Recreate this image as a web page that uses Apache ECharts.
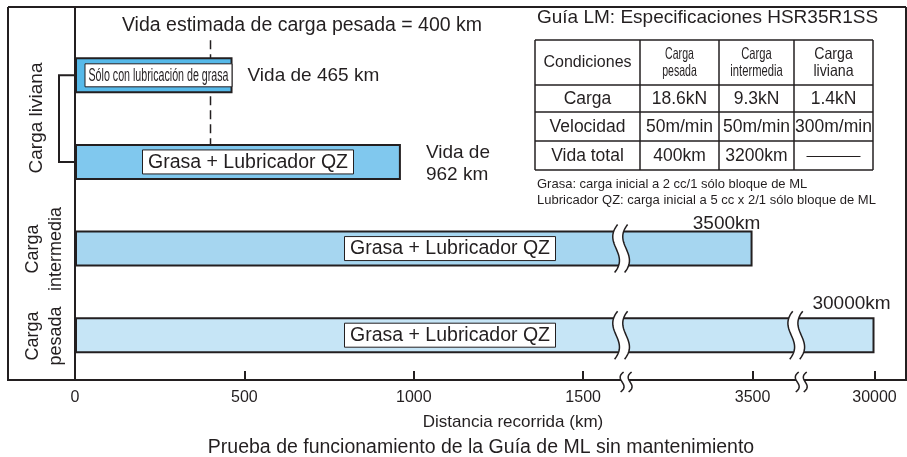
<!DOCTYPE html>
<html><head><meta charset="utf-8">
<script src="https://cdn.jsdelivr.net/npm/echarts@6/dist/echarts.min.js"></script>
<style>html,body{margin:0;padding:0;background:#fff}#c{width:907px;height:457px}</style>
</head><body><div id="c"></div>
<script>
// ---------- data ----------
const rows = ['Carga liviana (grasa)', 'Carga liviana (QZ)', 'Carga intermedia', 'Carga pesada'];
const distancesKm = [465, 962, 3500, 30000];
const barLabels = ['Sólo con lubricación de grasa', 'Grasa + Lubricador QZ', 'Grasa + Lubricador QZ', 'Grasa + Lubricador QZ'];
const endLabels = ['Vida de 465 km', 'Vida de\n962 km', '3500km', '30000km'];
const ratedLifeKm = 400;
const ratedLifeLabel = 'Vida estimada de carga pesada = 400 km';
const tickKm = [0, 500, 1000, 1500, 3500, 30000];
const tickLabels = ['0', '500', '1000', '1500', '3500', '30000'];
const groupLabels = ['Carga liviana', 'Carga\nintermedia', 'Carga\npesada'];
const tableTitle = 'Guía LM: Especificaciones HSR35R1SS';
const tableHeader = ['Condiciones', 'Carga\npesada', 'Carga\nintermedia', 'Carga\nliviana'];
const tableRows = [
  ['Carga', '18.6kN', '9.3kN', '1.4kN'],
  ['Velocidad', '50m/min', '50m/min', '300m/min'],
  ['Vida total', '400km', '3200km', null]
];
const notes = ['Grasa: carga inicial a 2 cc/1 sólo bloque de ML', 'Lubricador QZ: carga inicial a 5 cc x 2/1 sólo bloque de ML'];
const xAxisName = 'Distancia recorrida (km)';
const caption = 'Prueba de funcionamiento de la Guía de ML sin mantenimiento';

// ---------- broken-axis scale (km -> axis position) ----------
const scaleKm = [0, 1500, 3500, 30000];
const scalePos = [0, 1500, 2000, 2360];
function toPos(km) {
  for (let i = 1; i < scaleKm.length; i++) {
    if (km <= scaleKm[i]) {
      const t = (km - scaleKm[i - 1]) / (scaleKm[i] - scaleKm[i - 1]);
      return scalePos[i - 1] + t * (scalePos[i] - scalePos[i - 1]);
    }
  }
  return scalePos[scalePos.length - 1];
}
const breakPos = [1612, 2129];

// ---------- styles ----------
const FONT = '"Liberation Sans", Arial, Helvetica, sans-serif';
const INK = '#231f20';
const barColors = ['#56b9e9', '#80c8ee', '#a6d6f0', '#c6e5f6'];
const BAR_W = 36;

function bez(p0, p1, p2, p3, n) {
  const pts = [];
  for (let i = 0; i <= n; i++) {
    const t = i / n, u = 1 - t;
    pts.push([
      u*u*u*p0[0] + 3*u*u*t*p1[0] + 3*u*t*t*p2[0] + t*t*t*p3[0],
      u*u*u*p0[1] + 3*u*u*t*p1[1] + 3*u*t*t*p2[1] + t*t*t*p3[1]
    ]);
  }
  return pts;
}
function sCurve(xc, y0, y1, amp) {
  const h = y1 - y0;
  return bez([xc + 1.5, y0], [xc - amp, y0 + h * 0.4], [xc + amp, y0 + h * 0.6], [xc - 1.5, y1], 28);
}
function breakShape(xc, y0, y1, gap, amp) {
  const L = sCurve(xc - gap / 2, y0, y1, amp);
  const R = sCurve(xc + gap / 2, y0, y1, amp);
  return {
    type: 'group',
    children: [
      { type: 'polygon', shape: { points: L.concat(R.slice().reverse()) }, style: { fill: '#fff' } },
      { type: 'polyline', shape: { points: L }, style: { stroke: INK, lineWidth: 1.5, fill: null } },
      { type: 'polyline', shape: { points: R }, style: { stroke: INK, lineWidth: 1.5, fill: null } }
    ]
  };
}

const breakData = [];
breakPos.forEach(bp => {
  distancesKm.forEach((km, i) => { if (bp > 1500 && toPos(km) > bp) breakData.push([bp, i]); });
  breakData.push([bp, -1]);
});

// label box layout (offset of box centre from bar start, px) and condensed scale
const labelLayout = [
  { dx: 83.5, font: 17.5, scaleX: 0.61, w: 147, h: 23 },
  { dx: 173, font: 19.5, scaleX: 1, w: 211, h: 24 },
  { dx: 375, font: 19.5, scaleX: 1, w: 211, h: 24 },
  { dx: 375, font: 19.5, scaleX: 1, w: 211, h: 24 }
];
// end-label layout relative to bar end / bar centre
const endLayout = [
  { dx: 15, dy: 0, align: 'left' },
  { dx: 25, dy: 2, align: 'left' },
  { dx: -26, dy: -25, align: 'center' },
  { dx: -23, dy: -31.5, align: 'center' }
];

// ---------- graphic (frame, titles, table) ----------
const graphics = [];
const line = (x1, y1, x2, y2, w) => graphics.push({ type: 'line', shape: { x1, y1, x2, y2 }, style: { stroke: INK, lineWidth: w || 2 }, silent: true });
const text = (x, y, t, o) => graphics.push({ type: 'text', x, y, rotation: (o && o.rotation) || 0, scaleX: (o && o.scaleX) || 1, silent: true,
  style: Object.assign({ text: t, fill: INK, font: '19px ' + FONT, textAlign: 'center', textVerticalAlign: 'middle' }, (o && o.style) || {}) });

line(8, 7, 906, 7); line(8, 7, 8, 381); line(906, 7, 906, 381); line(8, 380, 75, 380); line(75, 7, 75, 380);

text(302, 26, ratedLifeLabel, { style: { font: '19.5px ' + FONT } });
text(37, 118, groupLabels[0], { rotation: Math.PI / 2, style: { font: '19px ' + FONT } });
text(45, 249, groupLabels[1], { rotation: Math.PI / 2, style: { font: '18px ' + FONT, lineHeight: 23 } });
text(45, 336, groupLabels[2], { rotation: Math.PI / 2, style: { font: '18px ' + FONT, lineHeight: 23 } });

// table
const colX = [535, 640, 719, 794, 873];
const rowY = [40, 85, 112, 141, 170];
text(537, 18, tableTitle, { style: { textAlign: 'left', font: '19px ' + FONT } });
rowY.forEach(y => line(colX[0], y, colX[4], y, 1.5));
colX.forEach(x => line(x, rowY[0], x, rowY[4], 1.5));
const cx = i => (colX[i] + colX[i + 1]) / 2;
const cy = r => (rowY[r] + rowY[r + 1]) / 2;
const headerFont = [{ f: 16, s: 1, lh: 18 }, { f: 16.5, s: 0.64, lh: 17 }, { f: 16.5, s: 0.68, lh: 17 }, { f: 16.5, s: 0.86, lh: 17 }];
tableHeader.forEach((h, i) => {
  text(cx(i), cy(0), h, { scaleX: headerFont[i].s, style: { font: headerFont[i].f + 'px ' + FONT, lineHeight: headerFont[i].lh } });
});
tableRows.forEach((r, ri) => r.forEach((v, ci) => {
  if (v === null) line(cx(ci) - 27, cy(ri + 1) + 1, cx(ci) + 27, cy(ri + 1) + 1, 1);
  else text(cx(ci), cy(ri + 1) + 1, v, { style: { font: '17.5px ' + FONT } });
}));
text(537, 184, notes[0], { style: { textAlign: 'left', font: '13px ' + FONT } });
text(537, 200, notes[1], { style: { textAlign: 'left', font: '13px ' + FONT } });
text(481, 447.5, caption, { style: { font: '19.5px ' + FONT } });

// ---------- chart ----------
const tickPos = tickKm.map(toPos);
const chart = echarts.init(document.getElementById('c'), null, { renderer: 'canvas' });
chart.setOption({
  animation: false,
  backgroundColor: '#fff',
  grid: { left: 75, right: 2, top: 32, height: 346.5, outerBoundsMode: 'none', containLabel: false },
  xAxis: {
    type: 'value', min: 0, max: 2450, offset: 1.5,
    axisLine: { show: true, lineStyle: { color: INK, width: 2 } },
    axisTick: { show: true, inside: true, length: 9, lineStyle: { color: INK, width: 2 }, customValues: tickPos },
    axisLabel: {
      customValues: tickPos, margin: 10, color: INK, fontSize: 16, fontFamily: FONT,
      formatter: v => { const i = tickPos.findIndex(p => Math.abs(p - v) < 1e-6); return i >= 0 ? tickLabels[i] : ''; }
    },
    splitLine: { show: false },
    name: xAxisName, nameLocation: 'middle', nameGap: 34,
    nameTextStyle: { color: INK, fontSize: 17, fontFamily: FONT, padding: [0, 0, 0, 46] }
  },
  yAxis: { type: 'category', data: rows, inverse: true, show: false },
  graphic: { elements: graphics },
  series: [
    { // rated-life dashed line
      type: 'custom', z: 1, silent: true,
      data: [[toPos(ratedLifeKm), 0]],
      renderItem: (params, api) => {
        const a = api.coord([api.value(0), 0]);
        const b = api.coord([api.value(0), 1]);
        return { type: 'line', shape: { x1: a[0], y1: a[1] - 35, x2: b[0], y2: b[1] - BAR_W / 2 },
          style: { stroke: INK, lineWidth: 1.5, lineDash: [9, 5] } };
      }
    },
    { // bracket joining the two light-load bars
      type: 'custom', z: 1, silent: true,
      data: [[0, 0]],
      renderItem: (params, api) => {
        const a = api.coord([0, 0]), b = api.coord([0, 1]);
        return { type: 'polyline', shape: { points: [[a[0], a[1]], [a[0] - 16, a[1]], [a[0] - 16, b[1]], [b[0], b[1]]] },
          style: { stroke: INK, lineWidth: 2, fill: null } };
      }
    },
    {
      type: 'bar', z: 2, barWidth: BAR_W, silent: true,
      itemStyle: { borderColor: INK, borderWidth: 2 },
      data: distancesKm.map((km, i) => ({ value: toPos(km), itemStyle: { color: barColors[i] } }))
    },
    { // boxed labels inside bars
      type: 'custom', z: 3, silent: true,
      data: distancesKm.map((km, i) => [0, i]),
      renderItem: (params, api) => {
        const i = params.dataIndex, L = labelLayout[i];
        const c = api.coord([0, api.value(1)]);
        const x = c[0] + L.dx, y = c[1];
        return { type: 'group', children: [
          { type: 'rect', shape: { x: x - L.w / 2, y: y - L.h / 2, width: L.w, height: L.h }, style: { fill: '#fff', stroke: INK, lineWidth: 1 } },
          { type: 'text', x: x, y: y + 0.5, scaleX: L.scaleX, style: { text: barLabels[i], fill: INK, font: L.font + 'px ' + FONT, textAlign: 'center', textVerticalAlign: 'middle' } }
        ] };
      }
    },
    { // axis / bar breaks
      type: 'custom', z: 4, silent: true,
      data: breakData,
      renderItem: (params, api) => {
        const pos = api.value(0), row = api.value(1);
        const cs = params.coordSys;
        if (row < 0) {
          const xc = api.coord([pos, 0])[0] + 5;
          const ya = cs.y + cs.height + 1.5;
          return breakShape(xc, ya - 8, ya + 12, 8, 9);
        }
        const c = api.coord([pos, row]);
        return breakShape(c[0], c[1] - BAR_W / 2 - 6, c[1] + BAR_W / 2 + 6, 10, 14);
      }
    },
    { // end labels (life values)
      type: 'custom', z: 5, silent: true,
      data: distancesKm.map((km, i) => [toPos(km), i]),
      renderItem: (params, api) => {
        const i = params.dataIndex, E = endLayout[i];
        const c = api.coord([api.value(0), api.value(1)]);
        return { type: 'text', x: c[0] + E.dx, y: c[1] + E.dy,
          style: { text: endLabels[i], fill: INK, font: '19px ' + FONT, lineHeight: 22, textAlign: E.align, textVerticalAlign: 'middle' } };
      }
    }
  ]
});
</script>
</body></html>
